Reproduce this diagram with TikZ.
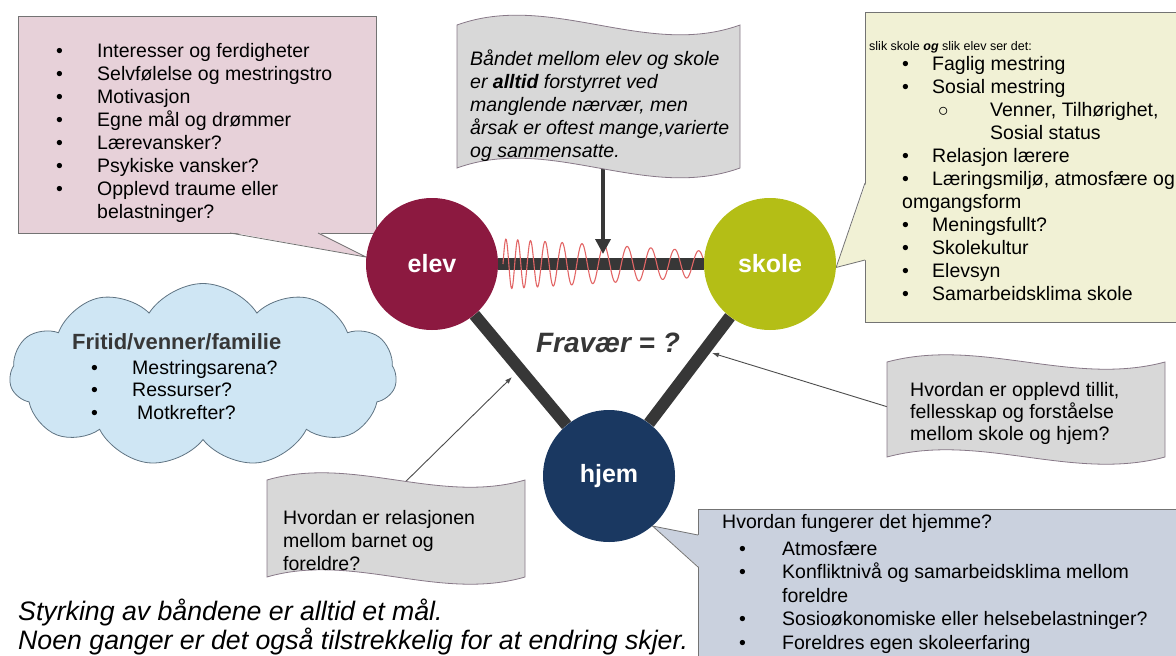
\documentclass[tikz,border=0pt]{standalone}
\usepackage{fontspec}
\setmainfont{Liberation Sans}
\usetikzlibrary{shapes.symbols,arrows.meta,backgrounds}

\definecolor{elevrod}{RGB}{140,25,64}
\definecolor{skolegul}{RGB}{180,190,22}
\definecolor{hjemblaa}{RGB}{26,56,97}
\definecolor{rosa}{RGB}{231,209,217}
\definecolor{lysgul}{RGB}{241,241,213}
\definecolor{graablaa}{RGB}{202,209,222}
\definecolor{himmel}{RGB}{207,230,244}
\definecolor{skykant}{RGB}{95,115,130}
\definecolor{flagg}{RGB}{216,216,216}
\definecolor{flaggkant}{RGB}{135,120,135}
\definecolor{strek}{RGB}{55,55,55}
\definecolor{bolge}{RGB}{226,102,102}

\newcommand{\pkt}{\textbullet}
\newcommand{\brod}{\fontsize{19.5}{23}\selectfont}

\tikzset{
  rolle/.style={circle, minimum size=132pt, inner sep=0pt, text=white,
    font=\fontsize{25}{30}\selectfont\bfseries},
  baand/.style={draw=strek, line width=12pt},
  boks/.style={draw=black!55, line width=0.8pt, inner sep=0pt},
  flaggform/.style={draw=flaggkant, fill=flagg, line width=0.8pt},
  tekst/.style={anchor=base west, inner sep=0pt, font=\brod},
  tynnpil/.style={draw=black!70, line width=0.9pt, -{Latex[length=7pt,width=5pt]}},
}

\begin{document}
\begin{tikzpicture}[x=1pt, y=-1pt]
\useasboundingbox (0,0) rectangle (1176,656);

% de tre partene
\node[rolle, fill=elevrod] (elev) at (432,264) {elev};
\node[rolle, fill=skolegul] (skole) at (770,264) {skole};
\node[rolle, fill=hjemblaa] (hjem) at (609,476) {hjem};

\node[font=\fontsize{28}{32}\selectfont\bfseries\itshape, text=strek] (fravaer) at (608,343) {Fravær = ?};

% tekster
\node[tekst] (elevliste) at (56,57) {\begin{tabular}[t]{@{}p{41pt}@{}l@{}}
\pkt & Interesser og ferdigheter\\
\pkt & Selvfølelse og mestringstro\\
\pkt & Motivasjon\\
\pkt & Egne mål og drømmer\\
\pkt & Lærevansker?\\
\pkt & Psykiske vansker?\\
\pkt & Opplevd traume eller\\
     & belastninger?
\end{tabular}};

\node[tekst, font=\fontsize{12.5}{15}\selectfont] (skoletittel) at (869,50) {slik skole \textbf{\textit{og}} slik elev ser det:};
\node[tekst] (skoleliste) at (902,70) {\begin{tabular}[t]{@{}p{30pt}@{}l@{}}
\pkt & Faglig mestring\\
\pkt & Sosial mestring\\
     & \hspace{6pt}\makebox[52pt][l]{$\circ$}Venner, Tilhørighet,\\
     & \hspace{58pt}Sosial status\\
\pkt & Relasjon lærere\\
\pkt & Læringsmiljø, atmosfære og\\
\multicolumn{2}{@{}l@{}}{omgangsform}\\
\pkt & Meningsfullt?\\
\pkt & Skolekultur\\
\pkt & Elevsyn\\
\pkt & Samarbeidsklima skole
\end{tabular}};

\node[tekst, font=\brod\itshape] (baandtekst) at (470,65) {\begin{tabular}[t]{@{}l@{}}
Båndet mellom elev og skole\\
er \textbf{alltid} forstyrret ved\\
manglende nærvær, men\\
årsak er oftest mange,varierte\\
og sammensatte.
\end{tabular}};

\node[tekst, font=\fontsize{22}{26}\selectfont\bfseries, text=strek] (fritidtittel) at (72,349) {Fritid/venner/familie};
\node[tekst, font=\fontsize{19.5}{22.5}\selectfont] (fritidliste) at (91,374) {\begin{tabular}[t]{@{}p{41pt}@{}l@{}}
\pkt & Mestringsarena?\\
\pkt & Ressurser?\\
\pkt & \hspace{5pt}Motkrefter?
\end{tabular}};

\node[tekst, font=\fontsize{19.5}{22}\selectfont] (tillittekst) at (910,396) {\begin{tabular}[t]{@{}l@{}}
Hvordan er opplevd tillit,\\
fellesskap og forståelse\\
mellom skole og hjem?
\end{tabular}};

\node[tekst] (relasjontekst) at (283,524) {\begin{tabular}[t]{@{}l@{}}
Hvordan er relasjonen\\
mellom barnet og\\
foreldre?
\end{tabular}};

\node[tekst] (hjemtittel) at (722,528) {Hvordan fungerer det hjemme?};
\node[tekst, font=\fontsize{19.5}{23.5}\selectfont] (hjemliste) at (739,555) {\begin{tabular}[t]{@{}p{43pt}@{}l@{}}
\pkt & Atmosfære\\
\pkt & Konfliktnivå og samarbeidsklima mellom\\
     & foreldre\\
\pkt & Sosioøkonomiske eller helsebelastninger?\\
\pkt & Foreldres egen skoleerfaring
\end{tabular}};

\node[tekst, font=\fontsize{26.7}{28}\selectfont\itshape] (maal) at (18,620) {\begin{tabular}[t]{@{}l@{}}
Styrking av båndene er alltid et mål.\\
Noen ganger er det også tilstrekkelig for at endring skjer.
\end{tabular}};

\begin{pgfonlayer}{background}
  % bokser med spiss mot sirklene
  \node[boks, fill=rosa, minimum width=358, minimum height=217] (elevboks) at (197,124.5) {};
  \fill[rosa] (230,232) -- (elev.174) -- (318,232) -- cycle;
  \draw[boks] (230,233) -- (elev.174) -- (318,233);

  \node[boks, fill=lysgul, minimum width=335, minimum height=310] (skoleboks) at (1032.5,167) {};
  \fill[lysgul] (866,183) -- (skole.-3) -- (866,260) -- cycle;
  \draw[boks] (865,183) -- (skole.-3) -- (865,260);

  \node[boks, fill=graablaa, minimum width=502, minimum height=171] (hjemboks) at (949,594.5) {};
  \fill[graablaa] (699,535) -- (hjem.-49) -- (699,567) -- cycle;
  \draw[boks] (698,535) -- (hjem.-49) -- (698,567);

  \node[cloud, cloud puffs=11, cloud puff arc=115, cloud ignores aspect, draw=skykant,
    fill=himmel, line width=0.8pt, minimum width=387, minimum height=183] (fritid) at (203,375) {};

  % baandene
  \draw[baand] (elev) -- (skole);
  \draw[baand] (elev) -- (hjem);
  \draw[baand] (skole) -- (hjem);
  \draw[bolge, line width=1.1pt] plot[variable=\t, domain=0:1, samples=500]
    ({503+200*\t}, {264-(25-12*\t)*sin(360*(8.33*\t+2.1*tanh(4.25*\t)))});

  % piler, under flaggene
  \coordinate (brudd) at (603,254);
  \coordinate (tillitmaal) at (712,353);
  \coordinate (relasjonmaal) at (512,377);
  \draw[draw=strek, line width=3.5pt, -{Triangle[length=15pt,width=15pt]}] (baandtekst.south -| brudd) -- (brudd);
  \draw[tynnpil] (tillittekst.west) -- (tillitmaal);
  \draw[tynnpil] (relasjontekst.north) -- (relasjonmaal);

  % flagg
  \draw[flaggform] (457,25) .. controls (551,-9) and (646,59) .. (740,25) -- (740,168)
    .. controls (646,202) and (551,134) .. (457,168) -- cycle;
  \draw[flaggform] (887,362) .. controls (980,337) and (1072,387) .. (1165,362) -- (1165,457)
    .. controls (1072,482) and (980,432) .. (887,457) -- cycle;
  \draw[flaggform] (267,480) .. controls (353,455) and (439,505) .. (525,480) -- (525,577)
    .. controls (439,602) and (353,552) .. (267,577) -- cycle;
\end{pgfonlayer}

\end{tikzpicture}
\end{document}
